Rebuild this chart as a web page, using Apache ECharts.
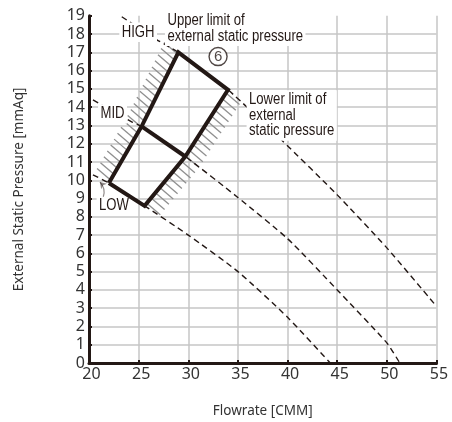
<!DOCTYPE html>
<html lang="en">
<head>
<meta charset="UTF-8" />
<title>External static pressure vs flowrate</title>
<script src="https://cdn.jsdelivr.net/npm/echarts@6/dist/echarts.min.js"></script>
<style>
  html, body { margin: 0; padding: 0; background: #fff; }
  #main { width: 452px; height: 422px; }
</style>
</head>
<body>
<div id="main"></div>
<script>
// fan curves: [flowrate CMM, static pressure mmAq]
var highCurve = [[23.3, 18.95], [26.8, 17.7], [29.0, 17.0], [34.0, 14.95], [39.4, 12.2], [45, 9.2], [50, 6.3], [55, 3.1]];
var midCurve = [[20.4, 14.4], [24.3, 13.2], [25.3, 12.95], [29.7, 11.3], [34.9, 9.1], [40, 6.8], [45, 4.0], [50, 1.1], [51.3, 0]];
var lowCurve = [[20.4, 10.3], [22.0, 9.85], [25.6, 8.6], [30, 7.0], [35, 5.0], [40, 2.5], [44.3, 0]];

// operating range (6)
var rangeOutline = [[22.0, 9.85], [25.3, 12.95], [29.0, 17.0], [34.0, 14.95], [29.7, 11.3], [25.6, 8.6], [22.0, 9.85]];
var rangeMid = [[25.3, 12.95], [29.7, 11.3]];

// edges that get the hatching
var upperLimitEdge = [[22.0, 9.85], [25.3, 12.95], [29.0, 17.0]];
var lowerLimitEdge = [[25.6, 8.6], [29.7, 11.3], [34.0, 14.95]];

// annotation texts and where they sit
var noteTexts = ['HIGH', 'Upper limit of\nexternal static pressure', 'MID', 'LOW', 'Lower limit of\nexternal\nstatic pressure'];
var noteAt = [[24.95, 18.1], [27.65, 18.31], [22.37, 13.63], [22.52, 8.59], [35.87, 13.55]];
var noteAlign = ['center', 'left', 'center', 'center', 'left'];
var circledAt = [33.0, 16.77];
var lowArrow = [[21.44, 9.1], [21.1, 9.9]];

var ink = '#231815';

var myChart = echarts.init(document.getElementById('main'));

// gray slanted strokes along one side of an edge
function hatch(edge, sign) {
  return function (params, api) {
    var pts = edge.map(function (p) { return api.coord(p); });
    var kids = [];
    var step = 6.8, dx = 13.5 * sign, dy = 11.5 * sign;
    var carry = step / 2;
    for (var i = 0; i < pts.length - 1; i++) {
      var a = pts[i], b = pts[i + 1];
      var len = Math.sqrt((b[0] - a[0]) * (b[0] - a[0]) + (b[1] - a[1]) * (b[1] - a[1]));
      var t = carry;
      while (t <= len) {
        var x = a[0] + (b[0] - a[0]) * t / len;
        var y = a[1] + (b[1] - a[1]) * t / len;
        kids.push({
          type: 'line',
          shape: { x1: x, y1: y, x2: x + dx, y2: y + dy },
          style: { stroke: '#8f8f8f', lineWidth: 1.3 }
        });
        t += step;
      }
      carry = t - len;
    }
    return { type: 'group', children: kids };
  };
}

// condensed annotation text (narrow font is not installed, so squeeze a regular one)
function noteItem(params, api) {
  var i = params.dataIndex;
  var pt = api.coord(noteAt[i]);
  return {
    type: 'text',
    x: pt[0],
    y: pt[1],
    scaleX: 0.82,
    style: {
      text: noteTexts[i],
      font: '16px "Liberation Sans", Arial, sans-serif',
      fill: ink,
      align: noteAlign[i],
      verticalAlign: 'middle',
      lineHeight: 15.5,
      backgroundColor: '#fff',
      padding: [2, 3]
    }
  };
}

function dashed(data) {
  return {
    type: 'line',
    data: data,
    showSymbol: false,
    smooth: 0.2,
    z: 3,
    lineStyle: { color: ink, width: 1.4, type: [6, 4] }
  };
}

myChart.setOption({
  animation: false,
  grid: { left: 89, right: 15.5, top: 15.8, bottom: 59, outerBoundsMode: 'none' },
  xAxis: {
    type: 'value',
    min: 20,
    max: 55,
    interval: 5,
    name: 'Flowrate [CMM]',
    nameLocation: 'middle',
    nameGap: 41,
    nameTextStyle: { fontFamily: 'Noto Sans', fontSize: 13.5, color: '#333' },
    axisLine: { lineStyle: { color: ink, width: 3 } },
    axisTick: { inside: true, length: 3, lineStyle: { color: ink, width: 2 } },
    axisLabel: { fontFamily: 'Noto Sans', fontSize: 16, color: '#333', margin: 3, padding: [0, 0, 0, 5] },
    splitLine: { show: true, showMinLine: false, lineStyle: { color: '#c6c6c6', width: 1.5 } }
  },
  yAxis: {
    type: 'value',
    min: 0,
    max: 19,
    interval: 1,
    name: 'External Static Pressure [mmAq]',
    nameLocation: 'middle',
    nameGap: 63,
    nameTextStyle: { fontFamily: 'Noto Sans', fontSize: 13.5, color: '#333' },
    axisLine: { lineStyle: { color: ink, width: 3 } },
    axisTick: { inside: true, length: 3, lineStyle: { color: ink, width: 2 } },
    axisLabel: { fontFamily: 'Noto Sans', fontSize: 16, color: '#333', margin: 4 },
    splitLine: { show: true, showMaxLine: false, lineStyle: { color: '#c6c6c6', width: 1.5 } }
  },
  series: [
    { type: 'custom', renderItem: hatch(upperLimitEdge, -1), data: [upperLimitEdge[0]], z: 2, silent: true },
    { type: 'custom', renderItem: hatch(lowerLimitEdge, 1), data: [lowerLimitEdge[0]], z: 2, silent: true },
    dashed(highCurve),
    dashed(midCurve),
    dashed(lowCurve),
    { type: 'custom', renderItem: noteItem, data: noteAt, z: 5, silent: true },
    {
      type: 'line',
      data: rangeOutline,
      showSymbol: false,
      z: 6,
      lineStyle: { color: ink, width: 4, join: 'miter' }
    },
    {
      type: 'line',
      data: rangeMid,
      showSymbol: false,
      z: 6,
      lineStyle: { color: ink, width: 4 }
    },
    {
      type: 'scatter',
      data: [circledAt],
      symbol: 'circle',
      symbolSize: 18,
      z: 6,
      itemStyle: { color: '#fff', borderColor: ink, borderWidth: 1.4 },
      label: {
        show: true,
        position: 'inside',
        formatter: '6',
        fontFamily: '"Liberation Sans", Arial, sans-serif',
        fontSize: 15,
        color: ink
      }
    },
    {
      type: 'lines',
      coordinateSystem: 'cartesian2d',
      data: [{ coords: lowArrow }],
      symbol: ['none', 'arrow'],
      symbolSize: 6,
      z: 7,
      lineStyle: { color: ink, width: 1.2, curveness: -0.3 }
    }
  ]
});
</script>
</body>
</html>
